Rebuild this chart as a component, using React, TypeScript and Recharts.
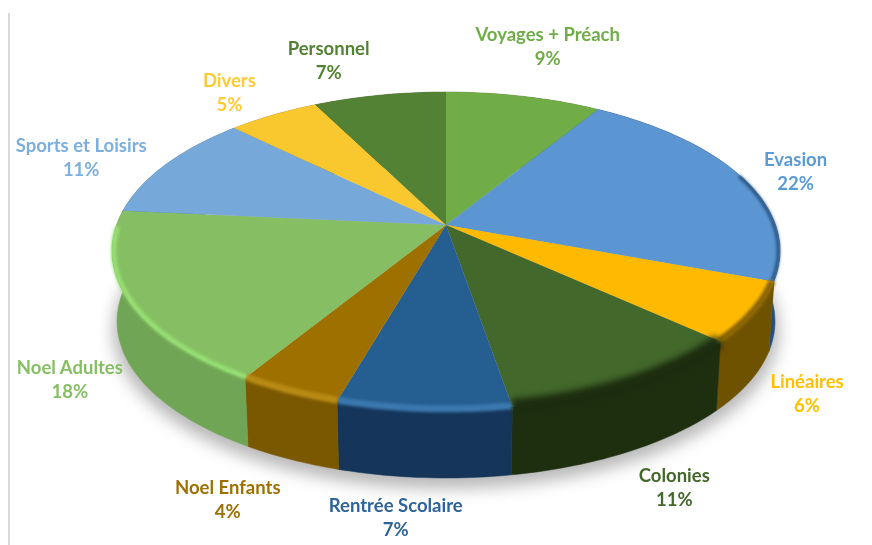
import { PieChart, Pie } from "recharts"

// values read from the slice edges, labels as printed on the chart
const categories = ["Voyages + Préach", "Evasion", "Linéaires", "Colonies", "Rentrée Scolaire", "Noel Enfants", "Noel Adultes", "Sports et Loisirs", "Divers", "Personnel"]
const values = [8.8, 21.8, 6.1, 10.6, 7.2, 4.3, 17.7, 10.8, 5.2, 7.5]
const percentLabels = ["9%", "22%", "6%", "11%", "7%", "4%", "18%", "11%", "5%", "7%"]

const faceColors = ["#70ad47", "#5b96d3", "#ffba00", "#43682b", "#255e91", "#9e7000", "#86bf63", "#76a9d9", "#f9c72e", "#548235"]
const wallColors = ["#4f7a32", "#24507f", "#6e5200", "#1e2f10", "#15355a", "#7a5800", "#70a555", "#4f7ba6", "#b08d20", "#3b5c25"]
const rimColors = ["#70ad47", "#234a75", "#8a6500", "#1c2c0f", "#3a78ae", "#b88a14", "#97df74", "#76a9d9", "#f9c72e", "#548235"]
const labelColors = ["#70ad47", "#5b9bd5", "#ffc000", "#43682b", "#2e6499", "#9e7000", "#86bf63", "#7cafdd", "#ffca33", "#548235"]
const rimWidths = [0, 3, 7, 13, 7, 7, 5, 0, 0, 0]

// label centre relative to the middle of the slice's rim
const labelNudge = [[24, -49], [54, -5], [53, 82], [43, 105], [-28, 108], [-61, 109], [-58, 81], [-85, -6], [-44, -22], [-51, -34]]

const slices = categories.map((name, i) => ({ name, value: values[i], fill: faceColors[i] }))
const wholeDisc = [{ name: "shadow", value: 100 }]

const CX = 446
const CY = 225
const RADIUS = 329.5
const TILT = 0.4695
const PERSPECTIVE = 0.1635
const DEPTH = 70.8
const BOTTOM_SCALE = 0.985

// circle point -> tilted plane with a bit of perspective, apex stays at cx/cy
function project(cx: number, cy: number, r: number, deg: number, f = 1) {
  const a = (deg * Math.PI) / 180
  const u = f * Math.cos(a)
  const v = f * Math.sin(a)
  const w = 1 + PERSPECTIVE * v
  return { x: cx + (r * u) / w, y: cy - (r * TILT * v) / w }
}

function lower(p: { x: number; y: number }, cx: number, cy: number, drop = DEPTH) {
  return { x: cx + (p.x - cx) * BOTTOM_SCALE, y: cy + (p.y - cy) * BOTTOM_SCALE + drop }
}

function angleSteps(start: number, end: number) {
  const n = Math.max(2, Math.ceil(Math.abs(end - start)))
  const out: number[] = []
  for (let i = 0; i <= n; i++) out.push(start + ((end - start) * i) / n)
  return out
}

const toPath = (pts: { x: number; y: number }[]) =>
  pts.map((p, i) => `${i ? "L" : "M"}${p.x.toFixed(1)},${p.y.toFixed(1)}`).join(" ")

function FaceSlice(props: any) {
  const { cx, cy, outerRadius, startAngle, endAngle, fill } = props
  const rim = angleSteps(startAngle, endAngle).map((d) => project(cx, cy, outerRadius, d))
  return <path d={toPath([{ x: cx, y: cy }, ...rim]) + " Z"} fill={fill} />
}

function WallSlice(props: any) {
  const { cx, cy, outerRadius, startAngle, endAngle, index } = props
  const top = angleSteps(startAngle, endAngle).map((d) => project(cx, cy, outerRadius, d))
  const bottom = top.map((p) => lower(p, cx, cy)).reverse()
  return <path d={toPath([...top, ...bottom]) + " Z"} fill={wallColors[index]} stroke={wallColors[index]} strokeWidth={0.5} />
}

function ShadowDisc(props: any) {
  const { cx, cy, outerRadius, startAngle, endAngle } = props
  const pts = angleSteps(startAngle, endAngle).map((d) => lower(project(cx, cy, outerRadius, d, 1.012), cx, cy, DEPTH + 8))
  return <path d={toPath(pts) + " Z"} fill="#b8b8b8" style={{ filter: "blur(8px)" }} />
}

// soft bevel along the front rim, on both sides of the top edge
function RimSlice(props: any) {
  const { cx, cy, outerRadius, startAngle, endAngle, index } = props
  const width = rimWidths[index]
  const front = angleSteps(startAngle, endAngle).filter((d) => Math.sin((d * Math.PI) / 180) < (index === 1 ? 0.35 : 0))
  if (!width || front.length < 2) return <g />
  const pts = front.map((d) => project(cx, cy, outerRadius, d, 0.995))
  return (
    <path
      d={toPath(pts)}
      fill="none"
      stroke={rimColors[index]}
      strokeWidth={width}
      style={{ filter: index === 3 ? "blur(3px)" : "blur(1.6px)" }}
    />
  )
}

function SliceLabel(props: any) {
  const { cx, cy, outerRadius, midAngle, index } = props
  const p = project(cx, cy, outerRadius, midAngle)
  const x = p.x + labelNudge[index][0]
  const y = p.y + labelNudge[index][1]
  return (
    <text x={x} y={y} textAnchor="middle" fill={labelColors[index]} fontFamily="Lato" fontWeight={700} fontSize={18.5}>
      <tspan x={x} dy={-6}>{categories[index]}</tspan>
      <tspan x={x} dy={24}>{percentLabels[index]}</tspan>
    </text>
  )
}

export default function App() {
  const common = { cx: CX, cy: CY, outerRadius: RADIUS, startAngle: 90, endAngle: -270, dataKey: "value", stroke: "none", isAnimationActive: false, labelLine: false }
  return (
    <div style={{ position: "absolute", left: 0, top: 0, width: 872, height: 545, background: "#fff", overflow: "hidden", filter: "blur(0.6px)" }}>
      <div style={{ position: "absolute", left: 8, top: 13, width: 2, height: 532, background: "#d9d9d9" }} />
      <PieChart width={872} height={545} margin={{ top: 0, right: 0, bottom: 0, left: 0 }}>
        <Pie {...common} data={wholeDisc} shape={ShadowDisc} />
        <Pie {...common} data={slices} shape={WallSlice} />
        <Pie {...common} data={slices} shape={FaceSlice} label={SliceLabel} />
        <Pie {...common} data={slices} shape={RimSlice} />
      </PieChart>
    </div>
  )
}
